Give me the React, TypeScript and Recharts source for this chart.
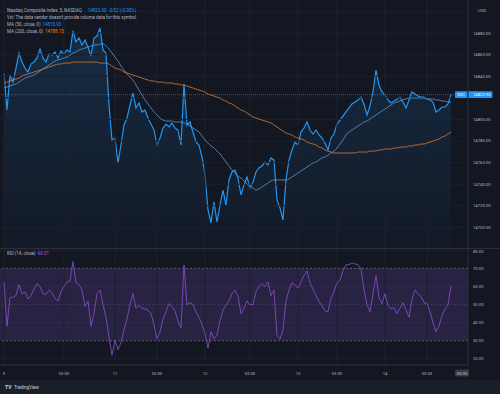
import React from 'react'
import { Area, CartesianGrid, ComposedChart, Line, ReferenceArea, ReferenceLine, XAxis, YAxis } from 'recharts'

// 5 min bars
const price = [
    14843.0, 14808.7, 14841.1, 14834.6, 14847.6, 14861.5, 14853.1, 14847.6, 14843.9, 14851.3,
    14853.1, 14856.9, 14865.2, 14856.9, 14853.1, 14860.6, 14859.6, 14862.4, 14856.9, 14863.3,
    14860.6, 14864.3, 14862.4, 14881.9, 14871.7, 14875.4, 14868.9, 14873.5, 14867.0, 14858.7,
    14875.4, 14877.2, 14884.6, 14864.3, 14861.5, 14813.3, 14780.9, 14782.8, 14759.6, 14776.3,
    14794.8, 14801.3, 14813.3, 14824.4, 14810.6, 14815.2, 14806.9, 14808.7, 14801.3, 14795.7,
    14790.2, 14776.3, 14782.8, 14792.0, 14795.7, 14793.0, 14796.7, 14792.0, 14790.2, 14776.3,
    14832.8, 14794.8, 14797.6, 14788.3, 14779.1, 14776.3, 14765.2, 14748.5, 14716.1, 14704.1,
    14723.5, 14705.0, 14720.7, 14734.6, 14720.7, 14743.9, 14751.3, 14753.1, 14745.7, 14730.0,
    14739.3, 14746.7, 14736.5, 14742.0, 14751.3, 14755.0, 14756.9, 14760.6, 14757.8, 14764.3,
    14762.4, 14725.4, 14718.0, 14706.9, 14743.9, 14762.4, 14771.7, 14779.1, 14776.3, 14788.3,
    14792.0, 14797.6, 14790.2, 14786.5, 14790.2, 14785.6, 14782.8, 14778.1, 14771.7, 14782.8,
    14786.5, 14795.7, 14799.4, 14803.1, 14806.9, 14810.6, 14814.3, 14816.1, 14818.0, 14820.7,
    14814.3, 14804.1, 14812.4, 14825.4, 14845.7, 14831.9, 14825.4, 14822.6, 14818.0, 14815.2,
    14817.0, 14818.9, 14820.7, 14816.1, 14810.6, 14818.0, 14825.4, 14823.5, 14821.7, 14820.7,
    14820.7, 14818.9, 14818.0, 14816.1, 14806.9, 14808.7, 14811.5, 14811.5, 14814.3, 14822.9,
]

const ma50 = [
    14829.1, 14830.0, 14830.9, 14831.9, 14832.8, 14834.6, 14836.5, 14838.3, 14839.3, 14840.2,
    14841.1, 14843.0, 14844.8, 14846.7, 14848.5, 14850.4, 14852.2, 14854.1, 14855.0, 14855.9,
    14856.9, 14857.8, 14859.6, 14861.5, 14862.4, 14864.3, 14865.2, 14866.1, 14867.0, 14868.0,
    14868.9, 14868.9, 14869.8, 14869.8, 14868.0, 14865.2, 14861.5, 14857.8, 14854.1, 14849.4,
    14845.7, 14842.0, 14839.3, 14836.5, 14831.9, 14827.2, 14822.6, 14818.0, 14814.3, 14810.6,
    14806.9, 14804.1, 14801.3, 14799.4, 14798.5, 14798.5, 14798.5, 14797.6, 14797.6, 14797.6,
    14796.7, 14795.7, 14793.9, 14792.0, 14790.2, 14788.3, 14784.6, 14780.9, 14778.1, 14775.4,
    14773.5, 14770.7, 14768.0, 14764.3, 14760.6, 14756.9, 14753.1, 14750.4, 14747.6, 14745.7,
    14743.0, 14740.2, 14738.3, 14736.5, 14734.6, 14735.6, 14737.4, 14739.3, 14741.1, 14743.0,
    14743.9, 14743.9, 14743.9, 14743.9, 14743.9, 14744.8, 14746.7, 14748.5, 14750.4, 14752.2,
    14754.1, 14755.9, 14757.8, 14759.6, 14760.6, 14762.4, 14764.3, 14765.2, 14767.0, 14768.9,
    14770.7, 14773.5, 14777.2, 14780.9, 14785.6, 14788.3, 14790.2, 14792.0, 14793.9, 14795.7,
    14797.6, 14798.5, 14800.4, 14802.2, 14804.1, 14805.9, 14807.8, 14809.6, 14811.5, 14813.3,
    14815.2, 14816.1, 14817.0, 14818.0, 14818.9, 14819.8, 14819.8, 14819.8, 14819.8, 14819.8,
    14819.8, 14818.9, 14818.9, 14818.9, 14818.0, 14818.0, 14817.0, 14817.0, 14816.1, 14815.9,
]

const ma200 = [
    14833.7, 14834.6, 14835.6, 14836.5, 14837.4, 14838.3, 14840.2, 14841.1, 14842.0, 14843.0,
    14843.9, 14844.8, 14845.7, 14846.7, 14847.6, 14848.5, 14849.4, 14850.4, 14851.3, 14851.3,
    14852.2, 14852.2, 14852.2, 14853.1, 14853.1, 14853.1, 14853.1, 14853.1, 14853.1, 14853.1,
    14853.1, 14853.1, 14852.2, 14852.2, 14852.2, 14851.3, 14849.4, 14847.6, 14846.7, 14845.7,
    14843.9, 14843.0, 14842.0, 14841.1, 14840.2, 14839.3, 14838.3, 14837.4, 14836.5, 14835.6,
    14835.6, 14834.6, 14834.6, 14834.6, 14833.7, 14833.7, 14833.7, 14832.8, 14832.8, 14831.9,
    14831.9, 14830.9, 14830.0, 14829.1, 14828.1, 14827.2, 14826.3, 14825.4, 14823.5, 14822.6,
    14821.7, 14820.7, 14819.8, 14818.0, 14817.0, 14815.2, 14814.3, 14812.4, 14810.6, 14808.7,
    14807.8, 14805.9, 14804.1, 14802.2, 14801.3, 14800.4, 14799.4, 14798.5, 14797.6, 14796.7,
    14794.8, 14793.0, 14791.1, 14789.3, 14787.4, 14786.5, 14785.6, 14783.7, 14782.8, 14781.9,
    14780.9, 14779.1, 14778.1, 14777.2, 14776.3, 14774.4, 14773.5, 14771.7, 14770.7, 14769.8,
    14768.9, 14768.9, 14768.9, 14768.9, 14768.9, 14768.9, 14768.9, 14768.9, 14769.8, 14769.8,
    14769.8, 14769.8, 14770.7, 14770.7, 14770.7, 14771.7, 14771.7, 14772.6, 14772.6, 14772.6,
    14773.5, 14773.5, 14774.4, 14774.4, 14774.4, 14775.4, 14775.4, 14776.3, 14776.3, 14777.2,
    14777.2, 14778.1, 14779.1, 14780.0, 14780.9, 14781.9, 14783.7, 14784.6, 14786.5, 14788.2,
]

const rsi = [
    62.6, 38, 54, 54, 55, 61, 56, 57, 53, 55,
    58.5, 61.5, 60, 56, 55.5, 58, 56.5, 53.4, 52, 57,
    60, 62.5, 63, 73.7, 62, 61, 58, 49, 52, 38,
    45, 56, 58, 50, 43, 32, 22, 30.4, 25, 29,
    36, 42, 50, 56, 48, 49.5, 48, 47.5, 47, 45,
    39, 31, 35, 42, 46, 50.5, 49, 46.5, 41, 37,
    71.8, 50, 51, 50, 46, 43, 39, 34, 26, 35,
    31, 33, 41, 47, 49.5, 52, 56, 58, 54.5, 45,
    48, 52, 50, 50, 57, 60, 61.5, 60, 62.5, 55,
    58, 33, 31, 36, 52, 58, 62, 61, 59, 62.5,
    66, 68.5, 62, 58.5, 55, 51.5, 49.5, 46.5, 46, 53.5,
    57, 62, 63.5, 68.5, 72, 72, 73, 72.5, 72, 70,
    58, 50, 46, 56, 66, 54, 50.5, 56, 49.5, 47.5,
    48.5, 45, 48, 51, 47, 43, 53, 58, 56, 54.5,
    51, 50.6, 46, 40, 35, 38, 44, 47.5, 50, 60,
]

// 14820 and 14900 are hidden under the price and currency tags in the reference
const priceTicks = [14700, 14720, 14740, 14760, 14780, 14800, 14840, 14860, 14880]
const priceGrid = [14700, 14720, 14740, 14760, 14780, 14800, 14820, 14840, 14860, 14880, 14900]
const rsiTicks = [20, 30, 40, 50, 60, 70, 80]
const timeTickPos = [0, 20, 37, 51, 67, 82, 98, 111, 127, 141, 152.7]
const timeTickText = ['9', '03:00', '11', '03:00', '12', '03:00', '13', '03:00', '14', '03:00', '05:30']

const lastPrice = 14822.9
const lastMa50 = 14815.93
const lastMa200 = 14788.15
const lastRsi = 60.01

const bars = price.map((p, i) => ({ i, price: p, ma50: ma50[i], ma200: ma200[i], rsi: rsi[i] }))

const BG = '#131722'
const GRID = '#1d212d'
const TXT = '#b2b5be'
const BLUE = '#2196f3'
const xDomain = [-1.33, 154.67]

const PriceTag = (props: any) => {
    const vb = props.viewBox || {}
    const y = vb.y
    const right = vb.x + vb.width
    return (
        <g>
            <rect x={right - 13} y={y - 3.4} width={12} height={6.8} fill={BLUE} rx={0.8} />
            <text x={right - 7} y={y + 1.5} fontSize={4.2} fill="#fff" textAnchor="middle">IXIC</text>
            <rect x={right - 0.5} y={y - 3.4} width={25} height={6.8} fill={BLUE} rx={0.8} />
            <text x={right + 5} y={y + 1.5} fontSize={4.2} fill="#fff">{lastPrice.toFixed(2)}</text>
        </g>
    )
}

const TimeTick = (props: any) => {
    const { x, y, payload } = props
    const k = timeTickPos.indexOf(payload.value)
    const label = timeTickText[k]
    if (k === timeTickPos.length - 1) {
        return (
            <g>
                <rect x={x - 7} y={y - 3.5} width={14} height={7} fill="#363a45" rx={0.8} />
                <text x={x} y={y + 1.5} fontSize={4.2} fill="#d1d4dc" textAnchor="middle">{label}</text>
            </g>
        )
    }
    return <text x={x} y={y + 1.5} fontSize={4.2} fill={TXT} textAnchor="middle">{label}</text>
}

const App = () => {
    return (
        <div style={{ position: 'absolute', left: 0, top: 0, width: 500, height: 394, background: BG, fontFamily: 'Roboto, sans-serif', overflow: 'hidden' }}>
            <ComposedChart width={500} height={248} data={bars} margin={{ top: 0, right: 0, left: 0, bottom: 0 }}>
                <defs>
                    <linearGradient id="priceFill" x1="0" y1="0" x2="0" y2="1">
                        <stop offset="0%" stopColor={BLUE} stopOpacity={0.28} />
                        <stop offset="100%" stopColor={BLUE} stopOpacity={0.03} />
                    </linearGradient>
                </defs>
                {priceGrid.map((v) => (
                    <ReferenceLine key={'h' + v} y={v} stroke={GRID} />
                ))}
                {timeTickPos.slice(0, -1).map((t) => (
                    <ReferenceLine key={t} x={t} stroke={GRID} />
                ))}
                <XAxis dataKey="i" type="number" domain={xDomain} hide allowDataOverflow />
                <YAxis
                    orientation="right"
                    width={32}
                    domain={[14680.9, 14910.6]}
                    ticks={priceTicks}
                    allowDataOverflow
                    tickFormatter={(v: number) => v.toFixed(2)}
                    tick={{ fill: TXT, fontSize: 4.2 }}
                    tickLine={false}
                    tickSize={3}
                    tickMargin={2}
                    axisLine={{ stroke: '#2a2e39' }}
                />
                <Area type="linear" dataKey="price" stroke={BLUE} strokeWidth={1.2} fill="url(#priceFill)" dot={false} activeDot={false} isAnimationActive={false} />
                <Line type="monotone" dataKey="ma50" stroke="#5b9bd0" strokeWidth={0.8} dot={false} activeDot={false} isAnimationActive={false} />
                <Line type="monotone" dataKey="ma200" stroke="#d77b33" strokeWidth={0.8} dot={false} activeDot={false} isAnimationActive={false} />
                <ReferenceLine y={lastPrice} stroke={BLUE} strokeOpacity={0.6} strokeDasharray="1 1" label={<PriceTag />} />
            </ComposedChart>
            <div style={{ position: 'absolute', left: 0, top: 248, width: 500, height: 1, background: '#2a2e39' }} />
            <div style={{ position: 'absolute', left: 0, top: 249 }}>
                <ComposedChart width={500} height={131} data={bars} margin={{ top: 0, right: 0, left: 0, bottom: 0 }}>
                    <CartesianGrid stroke={GRID} vertical={false} />
                    {timeTickPos.slice(0, -1).map((t) => (
                        <ReferenceLine key={t} x={t} stroke={GRID} />
                    ))}
                    <ReferenceArea y1={30} y2={70} fill="#7e57c2" fillOpacity={0.2} stroke="none" />
                    <ReferenceLine y={70} stroke="#787b86" strokeDasharray="2 2" strokeWidth={0.7} />
                    <ReferenceLine y={50} stroke="#787b86" strokeDasharray="1 2" strokeWidth={0.6} strokeOpacity={0.7} />
                    <ReferenceLine y={30} stroke="#787b86" strokeDasharray="2 2" strokeWidth={0.7} />
                    <XAxis
                        dataKey="i"
                        type="number"
                        domain={xDomain}
                        ticks={timeTickPos}
                        allowDataOverflow
                        height={15}
                        tickLine={false}
                        axisLine={{ stroke: '#2a2e39' }}
                        tick={<TimeTick />}
                        interval={0}
                    />
                    <YAxis
                        orientation="right"
                        width={32}
                        domain={[16.6, 80.7]}
                        ticks={rsiTicks}
                        allowDataOverflow
                        tickFormatter={(v: number) => v.toFixed(2)}
                        tick={{ fill: TXT, fontSize: 4.2 }}
                        tickLine={false}
                        tickSize={3}
                        tickMargin={2}
                        axisLine={{ stroke: '#2a2e39' }}
                    />
                    <Line type="linear" dataKey="rsi" stroke="#8c4fd0" strokeWidth={0.8} dot={false} activeDot={false} isAnimationActive={false} />
                </ComposedChart>
            </div>
            <div style={{ position: 'absolute', left: 0, top: 380, width: 500, height: 14, background: '#1a1e29' }} />
            <svg width={500} height={394} style={{ position: 'absolute', left: 0, top: 0, pointerEvents: 'none' }}>
                <g fontSize={4.5} fill={TXT}>
                    <text x={7} y={11.5}>
                        Nasdaq Composite Index, 5, NASDAQ
                        <tspan dx={6} fill={BLUE}>{lastPrice.toFixed(2)}</tspan>
                        <tspan dx={2} fill={BLUE}>-0.52 (-0.00%)</tspan>
                    </text>
                    <text x={7} y={18.5}>Vol: The data vendor doesn't provide volume data for this symbol.</text>
                    <text x={7} y={25.5}>
                        MA (50, close, 0)
                        <tspan dx={2} fill={BLUE}>{lastMa50.toFixed(2)}</tspan>
                    </text>
                    <text x={7} y={32.5}>
                        MA (200, close, 0)
                        <tspan dx={2} fill="#f57c00">{lastMa200.toFixed(2)}</tspan>
                    </text>
                    <text x={7} y={255}>
                        RSI (14, close)
                        <tspan dx={2} fill="#9c5ee0">{lastRsi.toFixed(2)}</tspan>
                    </text>
                </g>
                <text x={482} y={11.6} fontSize={4.2} fill={TXT} textAnchor="middle">USD</text>
                <text x={5} y={389} fontSize={5} fontWeight="bold" fill="#d1d4dc">TV</text>
                <text x={14} y={389} fontSize={4.5} fill="#d1d4dc">TradingView</text>
            </svg>
        </div>
    )
}

export default App
